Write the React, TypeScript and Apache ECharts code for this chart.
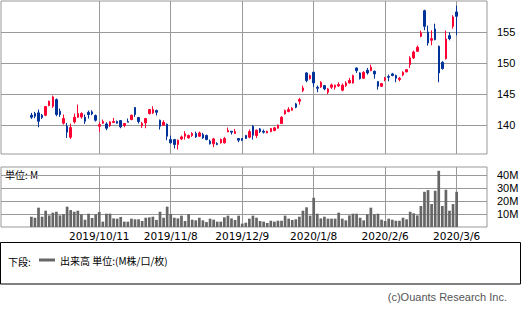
import React, { useEffect, useRef } from 'react';
import * as echarts from 'echarts';

const tickIndex = [19, 39, 59, 79, 99, 119];
const tickLabels = ['2019/10/11', '2019/11/8', '2019/12/9', '2020/1/8', '2020/2/6', '2020/3/6'];
const priceTicks = [140, 145, 150, 155];
const volumeTicks = [10, 20, 30, 40];

const openPrices = [
  141.56, 141.83, 141.94, 141.56, 141.56, 143.12, 143.01, 144.09, 142.2, 140.27,
  139.78, 138.01, 140.48, 141.24, 141.29, 141.24, 142.04, 142.1, 141.51, 139.78,
  140.27, 140.16, 139.89, 140.38, 140.54, 140.7, 139.89, 140.54, 140.86, 142.8,
  141.18, 139.89, 140.32, 141.83, 141.94, 142.31, 140.75, 139.95, 140.11, 137.63,
  137.63, 136.83, 137.74, 138.17, 137.9, 138.28, 138.6, 138.17, 138.44, 138.28,
  137.37, 136.94, 136.99, 137.1, 137.1, 138.87, 138.98, 138.6, 137.8, 137.8,
  138.28, 138.01, 139.78, 138.28, 139.35, 138.98, 138.71, 138.92, 139.09, 139.46,
  140.22, 141.77, 142.15, 142.37, 143.39, 143.82, 145.54, 148.39, 147.47, 148.49,
  146.08, 146.13, 146.34, 145.27, 146.08, 146.08, 146.29, 145.59, 146.34, 146.77,
  146.77, 149.19, 148.39, 147.53, 148.82, 148.76, 148.66, 146.99, 146.24, 147.26,
  147.8, 148.23, 147.96, 147.31, 148.06, 148.55, 149.73, 150.81, 151.88, 154.3,
  158.44, 155.0, 153.66, 155.48, 152.69, 150.11, 150.7, 154.41, 155.91, 158.23,
];
const closePrices = [
  141.24, 141.4, 140.59, 141.18, 142.96, 143.82, 144.52, 141.67, 141.67, 141.02,
  138.82, 139.57, 141.24, 141.83, 141.83, 140.59, 141.67, 141.77, 140.75, 140.05,
  140.54, 139.46, 140.48, 140.54, 140.27, 139.68, 140.22, 140.43, 141.56, 141.67,
  140.54, 140.22, 141.02, 142.47, 142.47, 142.04, 139.78, 140.43, 138.17, 137.1,
  136.83, 137.53, 138.06, 138.55, 138.28, 138.6, 138.06, 138.71, 137.9, 137.63,
  136.94, 137.74, 136.83, 137.63, 137.8, 139.09, 138.82, 138.92, 137.53, 137.53,
  137.8, 138.92, 138.33, 139.14, 138.92, 138.82, 138.98, 139.41, 139.52, 139.95,
  141.24, 142.31, 142.47, 142.69, 142.85, 144.09, 145.97, 147.15, 147.96, 146.77,
  145.91, 146.88, 145.81, 145.81, 146.45, 146.4, 146.51, 146.4, 146.77, 147.2,
  147.96, 148.76, 147.47, 148.49, 148.39, 149.3, 148.23, 146.24, 146.67, 147.53,
  147.69, 147.96, 147.53, 147.53, 148.49, 148.92, 150.81, 151.77, 152.53, 154.84,
  155.91, 153.23, 153.92, 153.76, 148.39, 149.09, 153.87, 153.92, 157.42, 157.53,
];
const lowPrices = [
  140.97, 141.08, 139.62, 140.97, 141.4, 143.01, 142.74, 141.4, 141.29, 140.05,
  137.9, 137.74, 140.22, 141.13, 141.02, 140.16, 141.02, 141.56, 140.54, 138.87,
  140.16, 139.14, 139.68, 140.32, 140.22, 139.46, 139.62, 140.43, 140.75, 141.29,
  140.22, 139.52, 139.46, 141.67, 141.77, 141.51, 139.25, 139.89, 137.53, 136.99,
  136.18, 136.02, 137.53, 137.63, 137.8, 138.06, 137.9, 138.06, 137.74, 137.53,
  136.83, 136.4, 136.72, 136.99, 136.99, 138.82, 138.44, 138.6, 137.2, 137.4,
  137.74, 137.85, 137.63, 137.9, 138.7, 138.6, 138.65, 138.82, 138.98, 139.41,
  140.16, 141.67, 142.04, 142.31, 142.69, 143.28, 145.27, 146.88, 147.31, 146.13,
  145.27, 145.97, 145.59, 144.95, 145.81, 145.7, 146.13, 145.43, 146.13, 146.67,
  146.67, 148.39, 147.31, 147.42, 148.12, 148.66, 147.47, 145.7, 146.13, 147.04,
  147.04, 147.85, 146.88, 147.04, 147.85, 148.49, 149.19, 150.65, 151.77, 154.14,
  155.27, 152.8, 152.85, 153.66, 146.88, 148.92, 150.54, 153.66, 155.54, 154.46,
];
const highPrices = [
  141.94, 142.1, 142.47, 141.77, 143.01, 143.92, 144.73, 144.25, 142.63, 141.67,
  140.32, 140.22, 141.83, 143.28, 142.04, 141.67, 142.31, 142.37, 141.67, 140.43,
  140.86, 140.43, 140.59, 141.13, 140.7, 140.75, 140.22, 141.02, 141.67, 142.85,
  141.29, 140.48, 141.13, 142.58, 143.01, 142.47, 140.86, 140.75, 140.22, 138.28,
  137.74, 137.63, 138.28, 138.98, 138.44, 138.82, 138.92, 138.92, 138.71, 138.44,
  137.63, 137.9, 137.2, 137.8, 138.06, 139.57, 138.98, 139.35, 137.8, 137.85,
  138.39, 139.25, 139.95, 139.25, 139.5, 139.25, 139.05, 139.52, 139.68, 140.05,
  141.4, 142.47, 142.85, 142.85, 143.55, 144.35, 146.34, 148.49, 148.12, 148.6,
  146.34, 147.04, 146.45, 145.97, 146.67, 146.5, 146.88, 146.67, 147.04, 147.58,
  148.12, 149.25, 148.49, 148.66, 149.19, 149.73, 148.76, 147.04, 146.77, 147.74,
  148.12, 148.39, 148.12, 147.74, 148.66, 149.03, 151.08, 151.99, 152.8, 155.22,
  158.6, 156.02, 155.27, 156.34, 152.8, 150.27, 155.22, 154.95, 157.69, 159.25,
];
const volumes = [
  7.9, 7.1, 14.8, 7.9, 12.5, 8.9, 11.0, 11.7, 8.9, 9.7,
  15.6, 13.0, 11.7, 12.5, 9.7, 5.6, 10.2, 6.9, 9.7, 11.5,
  4.1, 10.2, 10.2, 6.6, 6.4, 7.7, 4.1, 4.1, 6.4, 5.9,
  5.9, 4.6, 7.1, 7.4, 7.9, 5.4, 11.7, 7.1, 15.6, 10.0,
  7.1, 6.6, 8.7, 4.6, 9.9, 5.6, 5.1, 7.1, 5.1, 3.8,
  6.4, 5.6, 4.1, 4.1, 7.4, 8.7, 6.6, 5.4, 8.7, 2.6,
  3.3, 6.4, 8.7, 7.1, 4.6, 4.1, 3.1, 4.8, 4.1, 4.8,
  4.8, 8.7, 6.4, 5.4, 5.9, 7.9, 12.5, 15.1, 8.7, 22.4,
  10.2, 6.6, 7.9, 6.4, 6.4, 6.4, 11.0, 6.4, 5.1, 8.9,
  10.2, 10.2, 7.1, 5.1, 9.7, 14.8, 9.7, 10.2, 5.6, 4.6,
  6.4, 5.6, 4.8, 4.8, 7.1, 5.9, 11.7, 10.5, 8.9, 16.1,
  27.0, 28.3, 17.6, 27.8, 43.1, 16.1, 28.6, 12.5, 17.6, 27.0,
];

const RED = '#ff0033';
const BLUE = '#003399';
const GRID = '#999999';
const VOL = '#666666';
const CJK = '"Noto Sans CJK JP", sans-serif';

export default function App() {
  const ref = useRef<HTMLDivElement>(null);

  useEffect(() => {
    const chart = echarts.init(ref.current as HTMLDivElement, null, {
      renderer: 'svg',
      width: 525,
      height: 311,
    });

    const candleData = openPrices.map((o, i) => [i, o, closePrices[i], lowPrices[i], highPrices[i]]);
    const volumeData = volumes.map((v, i) => [i, v]);

    const xBase = {
      type: 'value' as const,
      min: -8.5,
      max: 127.5,
      axisLine: { show: false },
      axisTick: { show: false, customValues: tickIndex },
      splitLine: { show: true, lineStyle: { color: GRID, width: 1 } },
    };

    const option = {
      animation: false,
      backgroundColor: '#ffffff',
      grid: [
        { left: 1, top: 1, width: 486, height: 153, show: true, borderColor: GRID, borderWidth: 1, backgroundColor: 'transparent' },
        { left: 1, top: 167, width: 486, height: 60, show: true, borderColor: GRID, borderWidth: 1, backgroundColor: 'transparent' },
      ],
      xAxis: [
        { ...xBase, gridIndex: 0, axisLabel: { show: false, customValues: tickIndex } },
        {
          ...xBase,
          gridIndex: 1,
          axisLabel: {
            show: true,
            customValues: tickIndex,
            formatter: (v: number) => {
              const k = tickIndex.indexOf(Math.round(v));
              return k >= 0 ? tickLabels[k] : '';
            },
            color: '#000',
            fontSize: 10.5,
            fontFamily: '"DejaVu Sans", sans-serif',
            margin: 3,
          },
        },
      ],
      yAxis: [
        {
          type: 'value',
          gridIndex: 0,
          position: 'right',
          min: 135.3,
          max: 160,
          axisLine: { show: false },
          axisTick: { show: true, length: 6, customValues: priceTicks, lineStyle: { color: GRID } },
          axisLabel: { customValues: priceTicks, margin: 10, color: '#000', fontSize: 11, fontFamily: '"Liberation Sans", sans-serif' },
          splitLine: { show: true, lineStyle: { color: GRID, width: 1 } },
        },
        {
          type: 'value',
          gridIndex: 1,
          position: 'right',
          min: 0,
          max: 46,
          axisLine: { show: false },
          axisTick: { show: true, length: 6, customValues: volumeTicks, lineStyle: { color: GRID } },
          axisLabel: {
            customValues: volumeTicks,
            margin: 10,
            formatter: (v: number) => v + 'M',
            color: '#000',
            fontSize: 11,
            fontFamily: '"Liberation Sans", sans-serif',
          },
          splitLine: { show: true, lineStyle: { color: GRID, width: 1 } },
        },
      ],
      legend: {
        data: ['出来高'],
        left: 39,
        top: 255,
        padding: 0,
        itemWidth: 16,
        itemHeight: 3,
        icon: 'rect',
        selectedMode: false,
        formatter: (name: string) => name + ' 単位:(M株/口/枚)',
        textStyle: { fontSize: 10, fontFamily: CJK, color: '#000' },
      },
      graphic: [
        {
          type: 'rect',
          shape: { x: 0.5, y: 242.5, width: 520, height: 41.5 },
          style: { fill: 'none', stroke: '#000', lineWidth: 1 },
          silent: true,
        },
        {
          type: 'text',
          x: 8,
          y: 261,
          style: { text: '下段:', fontSize: 10, fontFamily: CJK, fill: '#000', verticalAlign: 'middle' },
          silent: true,
        },
        {
          type: 'text',
          x: 5,
          y: 174,
          style: { text: '単位: M', fontSize: 10, fontFamily: CJK, fill: '#000', verticalAlign: 'middle' },
          silent: true,
        },
        {
          type: 'text',
          x: 507,
          y: 297,
          style: {
            text: '(c)Ouants Research Inc.',
            fontSize: 11,
            fontFamily: '"Liberation Sans", sans-serif',
            fill: '#555',
            align: 'right',
            verticalAlign: 'middle',
          },
          silent: true,
        },
      ],
      series: [
        {
          type: 'candlestick',
          name: '株価',
          xAxisIndex: 0,
          yAxisIndex: 0,
          barWidth: 2,
          data: candleData,
          encode: { x: 0, y: [1, 2, 3, 4] },
          itemStyle: { color: RED, color0: BLUE, borderColor: RED, borderColor0: BLUE, borderWidth: 1 },
        },
        {
          type: 'bar',
          name: '出来高',
          xAxisIndex: 1,
          yAxisIndex: 1,
          barWidth: 2.7,
          data: volumeData,
          itemStyle: { color: VOL },
        },
      ],
    };

    chart.setOption(option as any);
    return () => chart.dispose();
  }, []);

  return (
    <div
      ref={ref}
      style={{ position: 'fixed', left: 0, top: 0, width: 525, height: 311, background: '#fff' }}
    />
  );
}
